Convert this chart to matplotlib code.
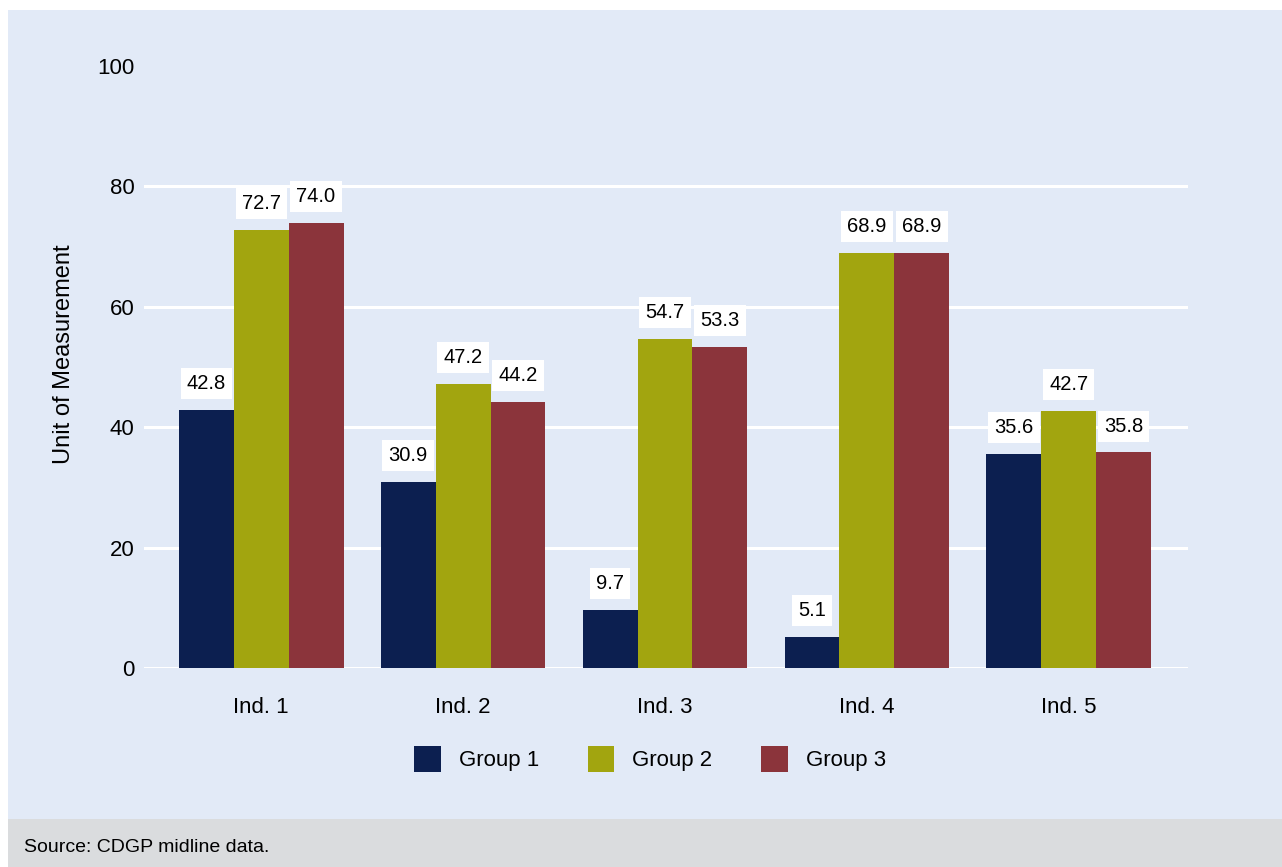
import numpy as np
import matplotlib
matplotlib.use("Agg")
import matplotlib.pyplot as plt
from matplotlib.patches import Rectangle, Patch

plt.rcParams['font.family'] = ['Liberation Sans', 'DejaVu Sans']

indicators = ["Ind. 1", "Ind. 2", "Ind. 3", "Ind. 4", "Ind. 5"]
groups = ["Group 1", "Group 2", "Group 3"]
group1 = [42.8, 30.9, 9.7, 5.1, 35.6]
group2 = [72.7, 47.2, 54.7, 68.9, 42.7]
group3 = [74.0, 44.2, 53.3, 68.9, 35.8]
colors = ["#0c1f50", "#a2a50f", "#8b343b"]

bg_blue = "#e2eaf7"
bg_gray = "#dadcde"

fig = plt.figure(figsize=(12.82, 8.67), dpi=100)
fig.patch.set_facecolor("white")
# blue panel and grey note band (behind the axes)
fig.patches.append(Rectangle((8/1282, 48/867), 1 - 8/1282, 1 - 10/867 - 48/867,
                             transform=fig.transFigure, facecolor=bg_blue,
                             edgecolor="none", zorder=-5))
fig.patches.append(Rectangle((8/1282, 0), 1 - 8/1282, 48/867,
                             transform=fig.transFigure, facecolor=bg_gray,
                             edgecolor="none", zorder=-5))

ax = fig.add_axes([144/1282, 199/867, (1188-144)/1282, (668-66)/867])
ax.patch.set_alpha(0)

x = np.arange(len(indicators))
w = 0.272
series = [group1, group2, group3]
for i, vals in enumerate(series):
    bars = ax.bar(x + (i - 1) * w, vals, w, color=colors[i], zorder=3)
    for b, v in zip(bars, vals):
        ax.annotate(f"{v:.1f}", (b.get_x() + b.get_width()/2, v),
                    xytext=(0, 19), textcoords="offset points",
                    ha="center", va="center", fontsize=14.5, zorder=5,
                    bbox=dict(boxstyle="square,pad=0.3", facecolor="white",
                              edgecolor="none"))

ax.set_xlim(-0.58, 4.59)
ax.set_ylim(0, 100)
ax.set_yticks([0, 20, 40, 60, 80, 100])
for g in [0, 20, 40, 60, 80]:
    ax.axhline(g, color="white", lw=2.2, zorder=1)
ax.set_xticks(x)
ax.set_xticklabels(indicators, fontsize=16)
ax.tick_params(axis="y", labelsize=16, length=0, pad=7)
ax.tick_params(axis="x", length=0, pad=21)
for s in ax.spines.values():
    s.set_visible(False)
ax.set_ylabel("Unit of Measurement", fontsize=17)
ax.yaxis.set_label_coords(-0.066, 0.522)

handles = [Patch(facecolor=c, edgecolor="none") for c in colors]
fig.legend(handles, groups, loc="center", bbox_to_anchor=(0.507, 1 - 759/867),
           ncol=3, frameon=False, fontsize=16, handlelength=1.2,
           handleheight=1.4, handletextpad=0.8, columnspacing=2.2)

fig.text(24/1282, 1 - 848/867, "Source: CDGP midline data.", fontsize=14,
         va="center", ha="left")

fig.savefig("out.png", dpi=100, facecolor=fig.get_facecolor())
